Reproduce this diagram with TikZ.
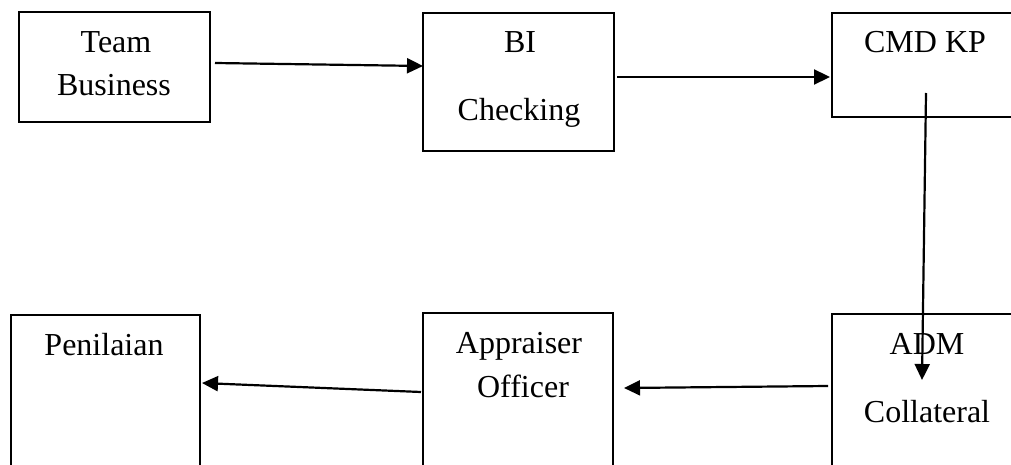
\documentclass[tikz,border=0pt]{standalone}
\usepackage{fontspec}
\setmainfont{Liberation Serif}
\usetikzlibrary{arrows.meta}
\begin{document}
\begin{tikzpicture}[x=1pt,y=-1pt,
  box/.style={draw=black,line width=2.8pt,rectangle,inner sep=0pt,outer sep=0pt},
  lbl/.style={anchor=base,inner sep=0pt,font=\fontsize{32}{38}\selectfont},
  arr/.style={line width=2.2pt,-{Triangle[length=16pt,width=15pt]}}]
\useasboundingbox (0,0) rectangle (1011,465);
\clip (0,0) rectangle (1011,465);
\fill[white] (0,0) rectangle (1011,465);
% boxes
\node[box,minimum width=191pt,minimum height=110pt] (tb) at (114.5,67) {};
\node[box,minimum width=191pt,minimum height=138pt] (bi) at (518.5,82) {};
\node[box,minimum width=198pt,minimum height=104pt] (cmd) at (931,65) {};
\node[box,minimum width=198pt,minimum height=166pt] (adm) at (931,397) {};
\node[box,minimum width=190pt,minimum height=167pt] (app) at (518,396.5) {};
\node[box,minimum width=189pt,minimum height=165pt] (pen) at (105.5,397.5) {};
% texts
\node[lbl] (t1) at (116,53) {Team};
\node[lbl] (t2) at (114,96) {Business};
\node[lbl] (t3) at (520,53) {BI};
\node[lbl] (t4) at (519,121) {Checking};
\node[lbl] (t5) at (925,53) {CMD KP};
\node[lbl] (t6) at (927,354) {ADM};
\node[lbl] (t7) at (927,422) {Collateral};
\node[lbl] (t8) at (519,353) {Appraiser};
\node[lbl] (t9) at (523,397) {Officer};
\node[lbl] (t10) at (104,355) {Penilaian};
% arrows
\draw[arr] ([xshift=5pt,yshift=4pt]tb.east) -- ([yshift=16pt]bi.west);
\draw[arr] ([xshift=3pt,yshift=5pt]bi.east) -- ([xshift=-2pt,yshift=-12pt]cmd.west);
\draw[arr] ([xshift=-5pt,yshift=24pt]cmd.south) -- ([xshift=-9pt,yshift=-66pt]adm.north);
\draw[arr] ([xshift=-4pt,yshift=11pt]adm.west) -- ([xshift=11pt,yshift=8.5pt]app.east);
\draw[arr] ([xshift=-2pt,yshift=4.5pt]app.west) -- ([xshift=2pt,yshift=14.5pt]pen.east);
\end{tikzpicture}
\end{document}
